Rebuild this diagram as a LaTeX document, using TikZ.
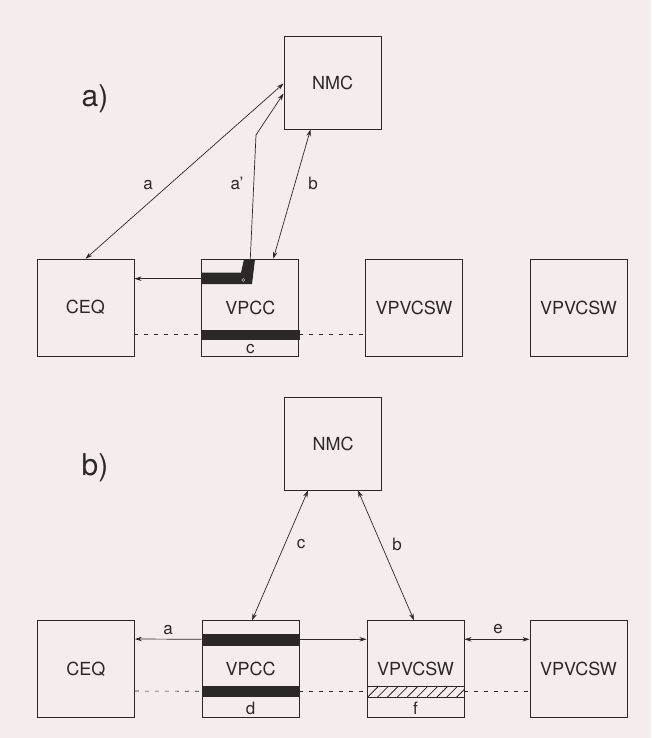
\documentclass[tikz,border=0pt]{standalone}
\usepackage{fontspec}
\setmainfont{TeX Gyre Heros}
\usetikzlibrary{arrows.meta,patterns.meta}
\definecolor{paper}{RGB}{245,237,237}
\definecolor{ink}{RGB}{45,40,40}
\tikzset{
  box/.style={draw=ink,line width=0.9pt,minimum width=97pt,minimum height=97pt,inner sep=0pt,font=\fontsize{18}{20}\selectfont,text=ink},
  nmcbox/.style={box,minimum height=93pt},
  tip/.tip={Stealth[length=7pt,width=4.5pt]},
  link/.style={draw=ink,line width=0.7pt,tip-tip},
  oneway/.style={draw=ink,line width=0.7pt,-tip},
  dashline/.style={draw=ink,line width=0.6pt,dash pattern=on 4pt off 6pt},
  bar/.style={fill=ink,draw=ink,line width=0.6pt},
  hatchbar/.style={draw=ink,line width=0.8pt,pattern={Lines[angle=45,distance=7pt,line width=0.8pt]},pattern color=ink},
  lbl/.style={font=\fontsize{17}{19}\selectfont,text=ink,inner sep=0pt},
  part/.style={font=\fontsize{30}{32}\selectfont,text=ink,inner sep=0pt}
}

\begin{document}
\begin{tikzpicture}[x=1pt,y=-1pt]
\fill[paper] (0,0) rectangle (651,738);
\useasboundingbox (0,0) rectangle (651,738);
% part a)
\node[part] (parta) at (95,99) {a)};
\node[nmcbox] (NMCa) at (332.5,82.5) {NMC};
\node[box] (CEQa) at (85.5,307.7) {CEQ};
\node[box] (VPCCa) at (250.3,307.7) {VPCC};
\node[box] (SWa) at (414,307.7) {VPVCSW};
\node[box] (SWaa) at (578.5,307.7) {VPVCSW};
\begin{scope}[shift={(VPCCa.center)}]
\fill[ink] (-48.5,-35) -- (-9.3,-35) -- (-6.3,-48.5) -- (4.7,-48.5) -- (1.7,-23.7) -- (-48.5,-23.7) -- cycle;
\draw[white!65!ink,line width=0.5pt] (-7,-27.7) circle[radius=1.5];
\draw[bar] (-48.5,22.3) rectangle (48.5,31.6);
\node[lbl] (ca) at (0,41.5) {c};
\end{scope}
\coordinate (abend) at (256,135);
\draw[link] (CEQa.north) -- ([yshift=-1pt]NMCa.west);
\draw[oneway] (VPCCa.north) -- (abend) -- ([yshift=-11pt]NMCa.west);
\draw[link] ([xshift=-22pt]NMCa.south) -- ([xshift=23pt]VPCCa.north);
\draw[oneway] ([yshift=29pt]VPCCa.west) -- ([yshift=29pt]CEQa.east);
\draw[dashline] ([yshift=-27pt]CEQa.east) -- ([yshift=-27pt]VPCCa.west);
\draw[dashline] ([yshift=-27pt]VPCCa.east) -- ([yshift=-27pt]SWa.west);
\node[lbl] (la) at (148,185) {a};
\node[lbl] (lap) at (237,183) {a'};
\node[lbl] (lb) at (313,183) {b};
% part b)
\node[part] (partb) at (95,468) {b)};
\node[nmcbox] (NMCb) at (333,443.5) {NMC};
\node[box] (CEQb) at (86,669) {CEQ};
\node[box] (VPCCb) at (250.5,669.3) {VPCC};
\node[box] (SWb) at (415.5,669.3) {VPVCSW};
\node[box] (SWbb) at (578.5,669.3) {VPVCSW};
\begin{scope}[shift={(VPCCb.center)}]
\draw[bar] (-48.5,-35.3) rectangle (48.5,-24.3);
\draw[bar] (-48.5,17.4) rectangle (48.5,27.4);
\node[lbl] (ld) at (0,39) {d};
\end{scope}
\begin{scope}[shift={(SWb.center)}]
\draw[hatchbar] (-48.5,17) rectangle (48.5,28);
\node[lbl] (lf) at (0,39) {f};
\end{scope}
\draw[oneway] ([yshift=30pt]VPCCb.west) -- ([yshift=30pt]CEQb.east);
\draw[oneway] ([yshift=30pt]VPCCb.east) -- ([yshift=30pt]SWb.west);
\draw[link] ([yshift=30pt]SWb.east) -- ([yshift=30pt]SWbb.west);
\draw[link] ([xshift=-25pt]NMCb.south) -- ([xshift=1.5pt]VPCCb.north);
\draw[link] ([xshift=25pt]NMCb.south) -- ([xshift=-1.5pt]SWb.north);
\draw[dashline] ([yshift=-22pt]CEQb.east) -- ([yshift=-22pt]VPCCb.west);
\draw[dashline] ([yshift=-22pt]VPCCb.east) -- ([yshift=-22pt]SWb.west);
\draw[dashline] ([yshift=-22pt]SWb.east) -- ([yshift=-22pt]SWbb.west);
\node[lbl] (lba) at (168,630) {a};
\node[lbl] (le) at (498,629) {e};
\node[lbl] (lc) at (301,544) {c};
\node[lbl] (lbb) at (397,544) {b};
\end{tikzpicture}
\end{document}
